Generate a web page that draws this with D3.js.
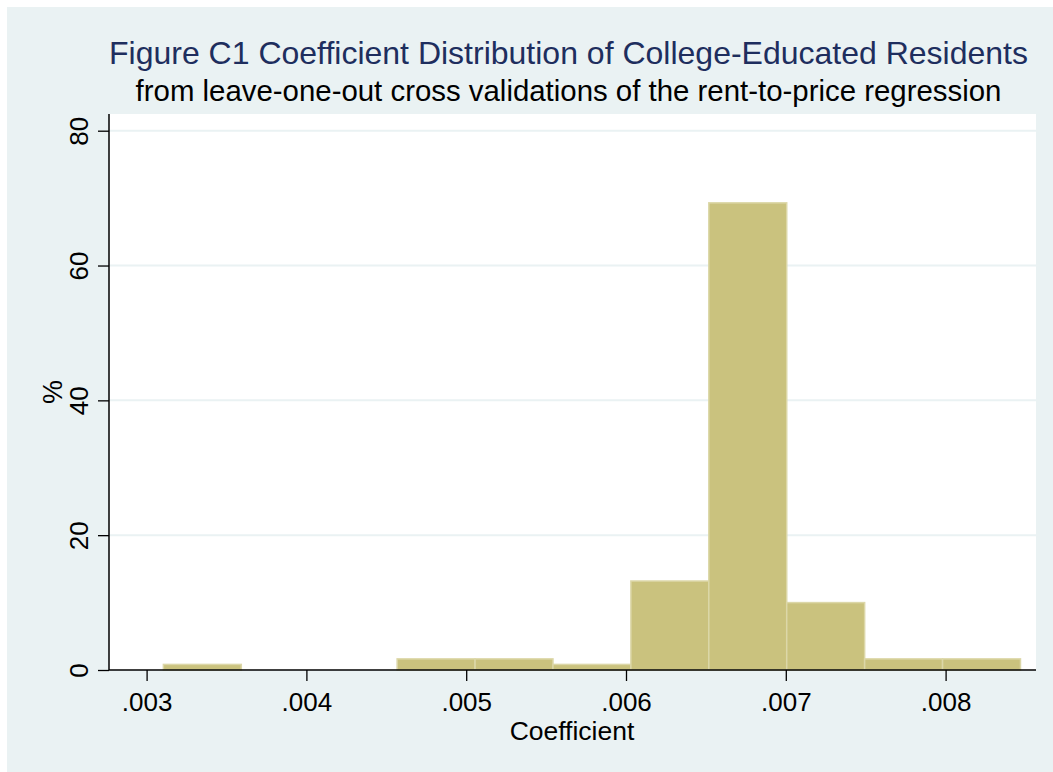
<!DOCTYPE html>
<html>
<head>
<meta charset="utf-8">
<script src="https://cdn.jsdelivr.net/npm/d3@7"></script>
<style>
  html, body { margin: 0; padding: 0; background: #ffffff; }
  svg { display: block; }
  text { font-family: "Liberation Sans", Arial, Helvetica, sans-serif; }
</style>
</head>
<body>
<svg id="chart" width="1053" height="772"></svg>
<script>
// ---- data ----
const titleText = "Figure C1 Coefficient Distribution of College-Educated Residents";
const subtitleText = "from leave-one-out cross validations of the rent-to-price regression";
const xTitle = "Coefficient";
const yTitle = "%";
const binLower = [0.003105, 0.0035926, 0.0040802, 0.0045678, 0.0050554, 0.005543,
                  0.0060306, 0.0065182, 0.0070058, 0.0074934, 0.007981];
const binUpper = [0.0035926, 0.0040802, 0.0045678, 0.0050554, 0.005543, 0.0060306,
                  0.0065182, 0.0070058, 0.0074934, 0.007981, 0.0084686];
const percents = [0.83, 0, 0, 1.65, 1.65, 0.83, 13.2, 69.3, 10.0, 1.65, 1.65];
const xTicks = [0.003, 0.004, 0.005, 0.006, 0.007, 0.008];
const xTickLabels = [".003", ".004", ".005", ".006", ".007", ".008"];
const yTicks = [0, 20, 40, 60, 80];
const yTickLabels = ["0", "20", "40", "60", "80"];

// ---- layout ----
const W = 1053, H = 772;
const plot = { left: 109, right: 1036, top: 114, bottom: 670 };
const bgColor = "#EAF2F3";
const barFill = "#CAC27E";
const barStroke = "#DCD7A8";
const titleColor = "#1E2E5E";

const svg = d3.select("#chart");

// outer background
svg.append("rect").attr("x", 0).attr("y", 0).attr("width", W).attr("height", H).attr("fill", "#ffffff");
svg.append("rect").attr("x", 7).attr("y", 7).attr("width", W - 7).attr("height", H - 7).attr("fill", bgColor);

// plot region
svg.append("rect")
  .attr("x", plot.left).attr("y", plot.top)
  .attr("width", plot.right - plot.left).attr("height", plot.bottom - plot.top)
  .attr("fill", "#ffffff");

const x = d3.scaleLinear().domain([0.003, 0.008]).range([146.6, 945.6]);
const y = d3.scaleLinear().domain([0, 80]).range([670, 130.7]);

// gridlines
svg.append("g").selectAll("line")
  .data(yTicks.filter(d => d > 0))
  .join("line")
  .attr("x1", plot.left).attr("x2", plot.right)
  .attr("y1", d => y(d)).attr("y2", d => y(d))
  .attr("stroke", bgColor).attr("stroke-width", 2);

// bars
const bins = percents.map((p, i) => ({ x0: binLower[i], x1: binUpper[i], p }));
svg.append("g").selectAll("rect")
  .data(bins.filter(d => d.p > 0))
  .join("rect")
  .attr("x", d => x(d.x0))
  .attr("width", d => x(d.x1) - x(d.x0))
  .attr("y", d => y(d.p))
  .attr("height", d => y(0) - y(d.p))
  .attr("fill", barFill)
  .attr("stroke", barStroke)
  .attr("stroke-width", 1.5);

// x axis
const xAxis = d3.axisBottom(x)
  .tickValues(xTicks)
  .tickFormat((d, i) => xTickLabels[i])
  .tickSize(11)
  .tickSizeOuter(0);
const gx = svg.append("g").attr("transform", `translate(0,${plot.bottom})`).call(xAxis);
gx.select(".domain").remove();
gx.selectAll(".tick line").attr("stroke", "#000").attr("stroke-width", 1.3);
gx.selectAll(".tick text")
  .attr("font-size", 26)
  .attr("fill", "#000")
  .attr("dy", null)
  .attr("y", 41);
gx.append("line")
  .attr("x1", plot.left).attr("x2", plot.right)
  .attr("y1", 0).attr("y2", 0)
  .attr("stroke", "#000").attr("stroke-width", 1.5);

// y axis
const yAxis = d3.axisLeft(y)
  .tickValues(yTicks)
  .tickFormat((d, i) => yTickLabels[i])
  .tickSize(11)
  .tickSizeOuter(0);
const gy = svg.append("g").attr("transform", `translate(${plot.left},0)`).call(yAxis);
gy.select(".domain").remove();
gy.selectAll(".tick line").attr("stroke", "#000").attr("stroke-width", 1.3);
gy.selectAll(".tick text")
  .attr("font-size", 26)
  .attr("fill", "#000")
  .attr("x", null).attr("dy", null)
  .attr("text-anchor", "middle")
  .attr("transform", "translate(-21,0) rotate(-90)");
gy.append("line")
  .attr("x1", 0).attr("x2", 0)
  .attr("y1", plot.top).attr("y2", plot.bottom)
  .attr("stroke", "#000").attr("stroke-width", 1.5);

// axis titles
svg.append("text")
  .attr("x", 572).attr("y", 740)
  .attr("text-anchor", "middle")
  .attr("font-size", 26.5)
  .attr("fill", "#000")
  .text(xTitle);
svg.append("text")
  .attr("transform", "translate(61.5,392) rotate(-90)")
  .attr("text-anchor", "middle")
  .attr("font-size", 27)
  .attr("fill", "#000")
  .text(yTitle);

// titles
svg.append("text")
  .attr("x", 568.5).attr("y", 64)
  .attr("text-anchor", "middle")
  .attr("font-size", 32)
  .attr("fill", titleColor)
  .text(titleText);
svg.append("text")
  .attr("x", 568.5).attr("y", 101)
  .attr("text-anchor", "middle")
  .attr("font-size", 29.4)
  .attr("fill", "#000")
  .text(subtitleText);
</script>
</body>
</html>
